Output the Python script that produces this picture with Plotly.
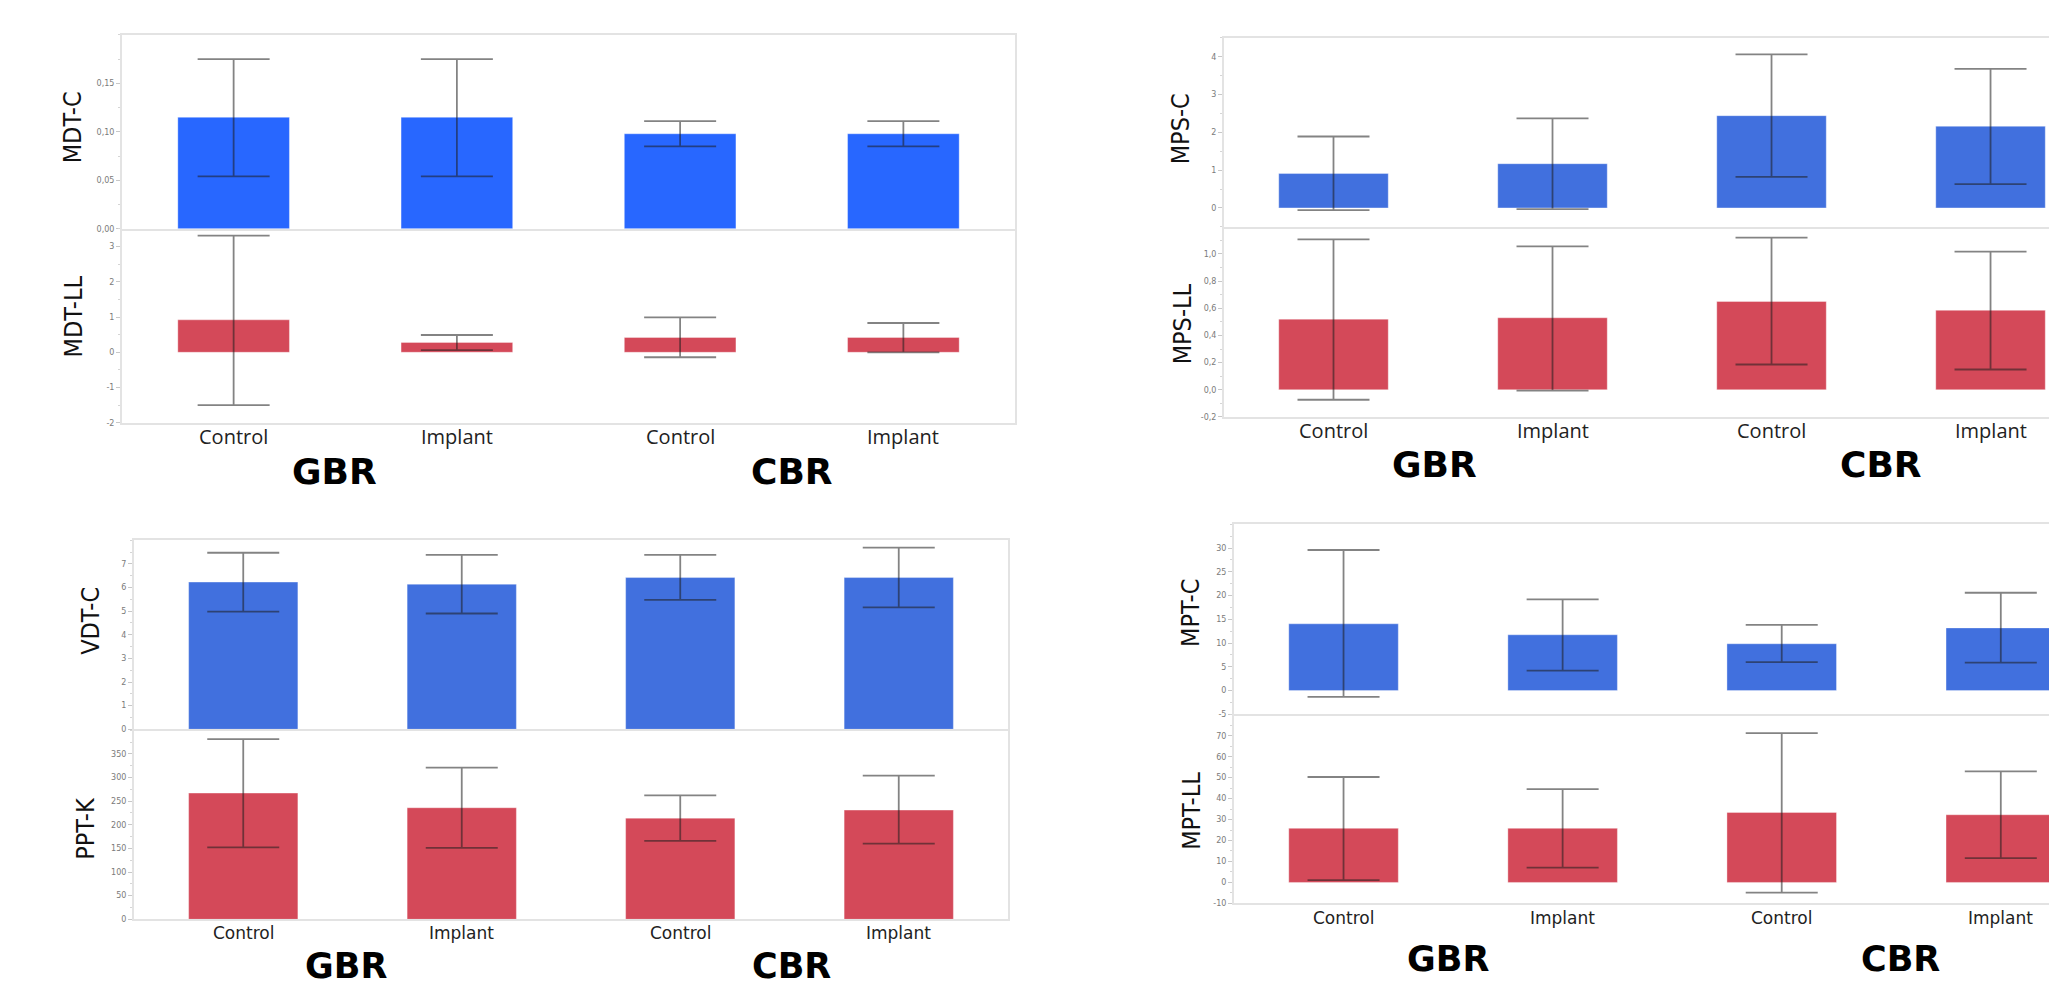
import numpy as np
import plotly.graph_objects as go

# ---------------- data ----------------
categories = ["Control", "Implant", "Control", "Implant"]
groups = ["GBR", "CBR"]

mdt_c_mean = [0.115, 0.115, 0.098, 0.098]
mdt_c_upper = [0.175, 0.175, 0.111, 0.111]
mdt_c_lower = [0.054, 0.054, 0.085, 0.085]

mdt_ll_mean = [0.92, 0.28, 0.42, 0.42]
mdt_ll_upper = [3.31, 0.49, 0.99, 0.83]
mdt_ll_lower = [-1.50, 0.06, -0.14, 0.00]

mps_c_mean = [0.91, 1.17, 2.44, 2.16]
mps_c_upper = [1.89, 2.37, 4.06, 3.68]
mps_c_lower = [-0.06, -0.03, 0.82, 0.63]

mps_ll_mean = [0.52, 0.53, 0.65, 0.585]
mps_ll_upper = [1.107, 1.056, 1.12, 1.017]
mps_ll_lower = [-0.074, -0.007, 0.186, 0.149]

vdt_c_mean = [6.23, 6.14, 6.42, 6.42]
vdt_c_upper = [7.47, 7.38, 7.38, 7.69]
vdt_c_lower = [4.98, 4.90, 5.48, 5.16]

ppt_k_mean = [267, 236, 214, 231]
ppt_k_upper = [381, 321, 262, 304]
ppt_k_lower = [152, 151, 166, 160]

mpt_c_mean = [14.06, 11.75, 9.86, 13.2]
mpt_c_upper = [29.6, 19.2, 13.85, 20.6]
mpt_c_lower = [-1.3, 4.2, 6.0, 5.9]

mpt_ll_mean = [25.8, 25.8, 33.4, 32.3]
mpt_ll_upper = [50.3, 44.5, 71.2, 53.0]
mpt_ll_lower = [1.1, 7.1, -4.9, 11.6]

# tick labels
mdt_c_ticks = [0, 0.05, 0.10, 0.15]
mdt_c_ticktext = ["0,00", "0,05", "0,10", "0,15"]
mdt_ll_ticks = [-2, -1, 0, 1, 2, 3]
mps_c_ticks = [0, 1, 2, 3, 4]
mps_ll_ticks = [-0.2, 0.0, 0.2, 0.4, 0.6, 0.8, 1.0]
mps_ll_ticktext = ["-0,2", "0,0", "0,2", "0,4", "0,6", "0,8", "1,0"]
vdt_c_ticks = [0, 1, 2, 3, 4, 5, 6, 7]
ppt_k_ticks = [0, 50, 100, 150, 200, 250, 300, 350]
mpt_c_ticks = [-5, 0, 5, 10, 15, 20, 25, 30]
mpt_ll_ticks = [-10, 0, 10, 20, 30, 40, 50, 60, 70]

# ---------------- layout helpers ----------------
W, H = 2049, 986


def fx(p):
    return p / W


def fy(p):
    return 1 - p / H


BLUE_A = "#2867FF"
BLUE_B = "#4170DE"
RED = "#D44959"
FRAME = "#e3e3e3"
TICKFONT = dict(family="DejaVu Sans, Verdana, sans-serif", size=8, color="#7a7a7a")
TOPCAT = dict(family="Open Sans, Lato, sans-serif", size=20, color="#222")
BOTCAT = dict(family="DejaVu Sans, Verdana, sans-serif", size=17, color="#222")
TITLEFONT = dict(family="Liberation Sans Narrow, DejaVu Sans Condensed, Arial Narrow, sans-serif",
                 size=25, color="#111")
GROUPFONT = dict(family="DejaVu Sans, Verdana, sans-serif", size=36, color="#000")
GROUPFONT_B = dict(family="DejaVu Sans, Verdana, sans-serif", size=35, color="#000")

panels = [
    dict(x0=122, x1=1015, top=35, div=230, bot=425, xmax=3.5, right=True,
         color_top=BLUE_A, catfont=TOPCAT, cat_y=439, group_x=[0.45, 2.5],
         group=dict(y=fy(474), yanchor="middle", font=GROUPFONT),
         upper=(mdt_c_mean, mdt_c_upper, mdt_c_lower, [0, 0.2], mdt_c_ticks, mdt_c_ticktext, 0.025, "MDT-C", (72, 128)),
         lower=(mdt_ll_mean, mdt_ll_upper, mdt_ll_lower, [-2, 3.5], mdt_ll_ticks, [str(v) for v in mdt_ll_ticks], 0.5, "MDT-LL", (73, 318))),
    dict(x0=1224, x1=2049, top=38, div=228, bot=419, xmax=3.267, right=False,
         color_top=BLUE_B, catfont=TOPCAT, cat_y=433, group_x=[0.46, 2.5],
         group=dict(y=fy(467), yanchor="middle", font=GROUPFONT),
         upper=(mps_c_mean, mps_c_upper, mps_c_lower, [-0.5, 4.5], mps_c_ticks, [str(v) for v in mps_c_ticks], 0.5, "MPS-C", (1180, 130)),
         lower=(mps_ll_mean, mps_ll_upper, mps_ll_lower, [-0.2, 1.2], mps_ll_ticks, mps_ll_ticktext, 0.1, "MPS-LL", (1182, 326))),
    dict(x0=134, x1=1008, top=543, div=733, bot=924, xmax=3.5, right=True,
         color_top=BLUE_B, catfont=BOTCAT, cat_y=938, group_x=[0.47, 2.51],
         group=dict(y=fy(993), yanchor="bottom", font=GROUPFONT_B),
         upper=(vdt_c_mean, vdt_c_upper, vdt_c_lower, [0, 8], vdt_c_ticks, [str(v) for v in vdt_c_ticks], 0.5, "VDT-C", (91, 624)),
         lower=(ppt_k_mean, ppt_k_upper, ppt_k_lower, [0, 402], ppt_k_ticks, [str(v) for v in ppt_k_ticks], 25, "PPT-K", (86, 833))),
    dict(x0=1234, x1=2049, top=527, div=718, bot=908, xmax=3.22, right=False,
         color_top=BLUE_B, catfont=BOTCAT, cat_y=923, group_x=[0.475, 2.54],
         group=dict(y=fy(964), yanchor="middle", font=GROUPFONT_B),
         upper=(mpt_c_mean, mpt_c_upper, mpt_c_lower, [-5, 35], mpt_c_ticks, [str(v) for v in mpt_c_ticks], 2.5, "MPT-C", (1191, 616))),
]
panels[3]["lower"] = (mpt_ll_mean, mpt_ll_upper, mpt_ll_lower, [-10, 80.2], mpt_ll_ticks,
                      [str(v) for v in mpt_ll_ticks], 5, "MPT-LL", (1192, 815))

fig = go.Figure()
layout = dict(width=W, height=H, margin=dict(l=0, r=0, t=0, b=0),
              plot_bgcolor="white", paper_bgcolor="white", showlegend=False)
annotations = []
xs = list(range(len(categories)))

for i, p in enumerate(panels):
    for j, key in enumerate(["upper", "lower"]):
        n = 2 * i + j + 1
        sfx = "" if n == 1 else str(n)
        mean, up, lo, yr, tv, tt, minor_dt, title, tpos = p[key]
        mean_a = np.array(mean, dtype=float)
        err_plus = np.array(up, dtype=float) - mean_a
        err_minus = mean_a - np.array(lo, dtype=float)
        color = p["color_top"] if key == "upper" else RED
        fig.add_trace(go.Bar(
            x=xs, y=mean, width=0.5,
            marker=dict(color=color, line=dict(color="rgba(255,255,255,0.35)", width=1)),
            error_y=dict(type="data", symmetric=False, array=err_plus, arrayminus=err_minus,
                         color="rgba(30,30,30,0.55)", thickness=1.8, width=36),
            xaxis="x" + sfx, yaxis="y" + sfx, hoverinfo="skip",
        ))
        if key == "upper":
            ytop, ybot = p["top"], p["div"]
        else:
            ytop, ybot = p["div"], p["bot"]
        layout["xaxis" + sfx] = dict(
            domain=[fx(p["x0"]), fx(p["x1"])], anchor="y" + sfx, range=[-0.5, p["xmax"]],
            showgrid=False, zeroline=False, showline=True, linecolor=FRAME, linewidth=2,
            mirror=(key == "upper"), ticks="", fixedrange=True, showticklabels=False,
        )
        layout["yaxis" + sfx] = dict(
            domain=[fy(ybot), fy(ytop)], anchor="x" + sfx, range=yr,
            showgrid=False, zeroline=False, showline=True, linecolor=FRAME, linewidth=2,
            mirror=p["right"], ticks="outside", ticklen=4, tickcolor="#c8c8c8", tickwidth=1,
            tickvals=tv, ticktext=tt, tickfont=TICKFONT,
            minor=dict(ticks="outside", ticklen=2, tickcolor="#d5d5d5", dtick=minor_dt, tick0=0),
            fixedrange=True,
        )
        annotations.append(dict(text=title, x=fx(tpos[0]), y=fy(tpos[1]), xref="paper", yref="paper",
                                textangle=-90, showarrow=False, font=TITLEFONT,
                                xanchor="center", yanchor="middle"))
    bsfx = str(2 * i + 2)
    for k, cat in enumerate(categories):
        annotations.append(dict(text=cat, x=xs[k], y=fy(p["cat_y"]), xref="x" + bsfx, yref="paper",
                                showarrow=False, font=p["catfont"], xanchor="center", yanchor="middle"))
    for g, gx in zip(groups, p["group_x"]):
        annotations.append(dict(text="<b>" + g + "</b>", x=gx, y=p["group"]["y"],
                                xref="x" + bsfx, yref="paper", showarrow=False,
                                font=p["group"]["font"], xanchor="center",
                                yanchor=p["group"]["yanchor"]))

layout["annotations"] = annotations
fig.update_layout(**layout)
fig.write_html("out.html", config={"displayModeBar": False},
               post_script="document.body.style.margin='0px';document.body.style.overflow='hidden';")
